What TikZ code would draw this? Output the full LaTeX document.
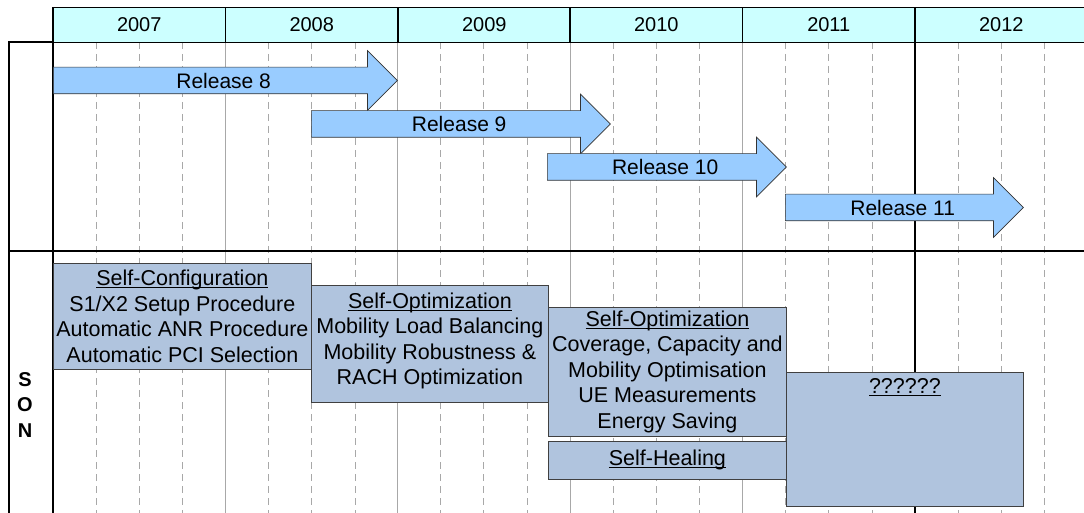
\documentclass[tikz,border=0pt]{standalone}
\usepackage{fontspec}
\setmainfont{Liberation Sans}
\usetikzlibrary{shapes.arrows}
\definecolor{yearcyan}{HTML}{CCFFFF}
\definecolor{relblue}{HTML}{99CCFF}
\definecolor{sonblue}{HTML}{B0C4DE}
\definecolor{gridgray}{HTML}{A8A8A8}
\newcommand\sonul[1]{\setbox0\hbox{#1}\rlap{\rule[-2.3pt]{\wd0}{0.9pt}}\box0}
\begin{document}
\begin{tikzpicture}[x=1pt,y=-1pt,
    yearcell/.style={draw=black,line width=1.2pt,fill=yearcyan,minimum width=172.5pt,minimum height=34.5pt,inner sep=0pt,font=\fontsize{20}{24}\selectfont},
    quarterline/.style={gridgray,line width=0.8pt,dash pattern=on 7pt off 5pt},
    yearline/.style={gridgray,line width=0.9pt},
    frameline/.style={black,line width=1.4pt},
    release/.style={single arrow,draw=black!80,fill=relblue,line width=0.7pt,minimum width=59pt,single arrow head extend=16.5pt,
      inner xsep=0pt,inner ysep=5.4pt,text height=15.2pt,text depth=0pt,anchor=tail,font=\fontsize{21}{24}\selectfont},
    sonbox/.style={draw=black!75,fill=sonblue,line width=0.8pt,align=center,inner sep=0pt,anchor=north west,font=\fontsize{21.5}{25.5}\selectfont}]
      \clip (0,0) rectangle (1084,513);
      % quarters
      \draw[quarterline]
        (96.1,42) -- (96.1,513) (139.25,42) -- (139.25,513) (182.4,42) -- (182.4,513)
        (268.6,42) -- (268.6,513) (311.75,42) -- (311.75,513) (354.9,42) -- (354.9,513)
        (440.6,42) -- (440.6,513) (483.75,42) -- (483.75,513) (526.9,42) -- (526.9,513)
        (613.1,42) -- (613.1,513) (656.25,42) -- (656.25,513) (699.4,42) -- (699.4,513)
        (785.6,42) -- (785.6,513) (828.75,42) -- (828.75,513) (871.9,42) -- (871.9,513)
        (958.1,42) -- (958.1,513) (1001.25,42) -- (1001.25,513) (1044.4,42) -- (1044.4,513);
      \draw[yearline]
        (225.5,42) -- (225.5,513) (397.5,42) -- (397.5,513)
        (570,42) -- (570,513) (742.5,42) -- (742.5,513);
      \draw[frameline] (915,42) -- (915,513);
      % frame
      \draw[frameline] (9,513) -- (9,42) -- (53,42);
      \draw[frameline] (53,42) -- (53,513);
      \draw[frameline,line width=1.8pt] (9,251) -- (1084,251);
      % years
      \draw
        (139.25,25) node[yearcell] (y2007) {2007}
        (311.75,25) node[yearcell] (y2008) {2008}
        (484.25,25) node[yearcell] (y2009) {2009}
        (656.25,25) node[yearcell] (y2010) {2010}
        (828.75,25) node[yearcell] (y2011) {2011}
        (1001.25,25) node[yearcell] (y2012) {2012};
      % releases
      \draw
        (53,80.5) node[release,minimum height=344pt] (rel8) {\hspace*{10pt}Release 8}
        (311,124) node[release,minimum height=299pt] (rel9) {\hspace*{10pt}Release 9}
        (547,167) node[release,minimum height=239pt] (rel10) {\hspace*{10pt}Release 10}
        (785,207.5) node[release,minimum height=238pt] (rel11) {\hspace*{10pt}Release 11};
      % SON
      \node[font=\bfseries\fontsize{20}{25.5}\selectfont,align=center] (son) at (25,405) {S\\O\\N};
      \node[sonbox,minimum width=258pt,minimum height=106pt] (selfconf) at (53,263)
        {\sonul{Self-Configuration}\\S1/X2 Setup Procedure\\Automatic ANR Procedure\\Automatic PCI Selection};
      \node[sonbox,minimum width=237pt,minimum height=117pt,text depth=10pt] (selfopta) at (311,285)
        {\sonul{Self-Optimization}\\Mobility Load Balancing\\Mobility Robustness \&\\RACH Optimization};
      \node[sonbox,minimum width=238pt,minimum height=129pt] (selfoptb) at (548,307)
        {\sonul{Self-Optimization}\\Coverage, Capacity and\\Mobility Optimisation\\UE Measurements\\Energy Saving};
      \node[sonbox,minimum width=238pt,minimum height=38pt] (selfheal) at (548,441)
        {\sonul{Self-Healing}};
      \node[sonbox,minimum width=237pt,minimum height=134pt,
        label={[anchor=north,yshift=-3pt,font=\fontsize{21.5}{25.5}\selectfont]north:\sonul{??????}}] (future) at (786,372) {};
\end{tikzpicture}
\end{document}
